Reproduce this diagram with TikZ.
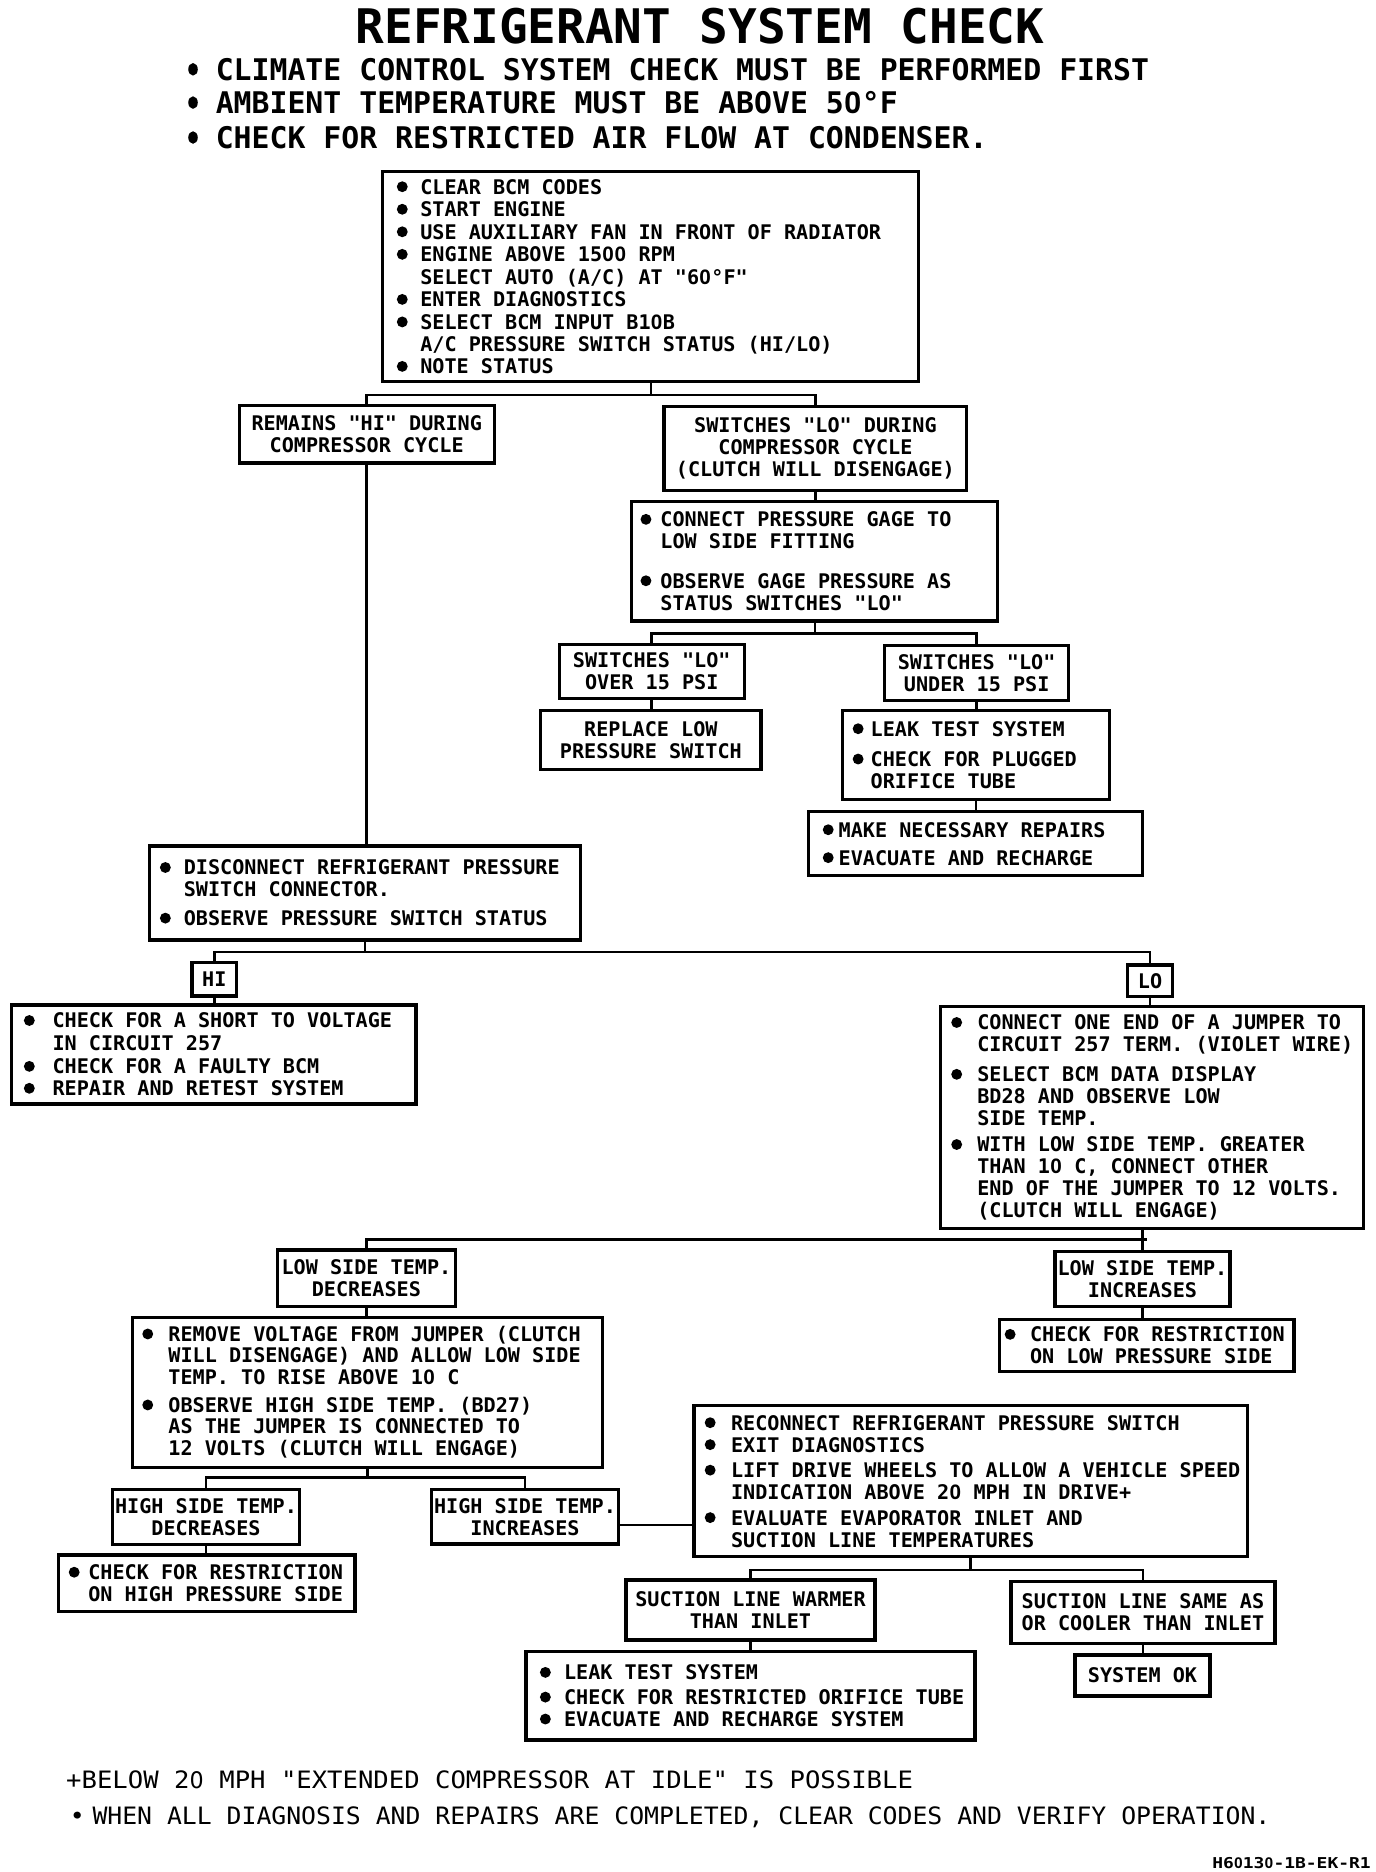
\documentclass[tikz,border=0pt]{standalone}
\usepackage{graphicx}
\usepackage{fontspec}
\setmainfont{DejaVu Sans Mono}
\newfontfamily\boxfamily[Ligatures=TeXOff]{DejaVu Sans Mono}
\newfontfamily\footAfamily[FakeStretch=1.07,Ligatures=TeXOff]{DejaVu Sans Mono}
\newfontfamily\footBfamily[FakeStretch=1.035,Ligatures=TeXOff]{DejaVu Sans Mono}
\newfontfamily\idfamily[FakeStretch=1.2]{DejaVu Sans Mono}
\newfontfamily\herosfam{TeX Gyre Heros}
\newcommand\Z{\makebox[0.602em]{\herosfam 0}}
\newcommand\boxfont{\boxfamily\bfseries\fontsize{10.1}{11}\selectfont}
\newlength\bulw
\newlength\bulp
\newcommand\bdot{\tikz[baseline=0pt]\fill (0.24em,0.37em) circle (0.27em);}
\newcommand\hdot{\tikz[baseline=0pt]\fill (0.15em,0.36em) ellipse [x radius=0.16em, y radius=0.21em];}
\newcommand\bul[1]{\mbox{\hspace*{\bulp}\makebox[\bulw][l]{\bdot}#1}}
\newcommand\ind[1]{\mbox{\hspace*{\bulp}\hspace*{\bulw}#1}}
% left-aligned bulleted box: opts, name, x1, y1, x2, y2, pad, bullet width, text
\newcommand\mkbox[9][]{%
  \pgfmathsetmacro\mkw{(#5-#3)*0.6}%
  \pgfmathsetmacro\mkh{(#6-#4)*0.6}%
  \node[box, inner xsep=0pt, minimum width=\mkw pt, minimum height=\mkh pt,
        text width=\mkw pt, align=left, anchor=north west,
        font=\boxfont\setlength{\bulp}{#7pt}\setlength{\bulw}{#8pt}, #1] (#2) at (#3,#4)
        {\spaceskip=0pt\xspaceskip=0pt\relax #9};}
% centred box: opts, name, x1, y1, x2, y2, text
\newcommand\mkcbox[7][]{%
  \pgfmathsetmacro\mkw{(#5-#3)*0.6}%
  \pgfmathsetmacro\mkh{(#6-#4)*0.6}%
  \node[box, inner xsep=0pt, minimum width=\mkw pt, minimum height=\mkh pt,
        align=center, anchor=north west, font=\boxfont, #1] (#2) at (#3,#4) {#7};}
\begin{document}
\begin{tikzpicture}[x=0.6pt,y=-0.6pt,
  box/.style={draw, line width=1.6pt, inner ysep=0pt, outer sep=0pt},
  conn/.style={line width=1.3pt},
  hdr/.style={anchor=base west, inner sep=0pt, font=\boxfamily\bfseries\fontsize{14.95}{18}\selectfont},
  ftrA/.style={anchor=base west, inner sep=0pt, font=\footAfamily\fontsize{12}{14}\selectfont},
  ftrB/.style={anchor=base west, inner sep=0pt, font=\footBfamily\fontsize{12}{14}\selectfont}]
\fill[white] (0,0) rectangle (1150,1564.6);
\useasboundingbox (0,0) rectangle (1150,1564.6);

% title and header notes
\node[anchor=base, inner sep=0pt, font=\boxfamily\bfseries\fontsize{23.9}{28}\selectfont] (title) at (585,36.2)
  {REFRIGERANT SYSTEM CHECK};
\node[hdr] (h1) at (157,66.9) {\makebox[13.8pt][l]{\hdot}CLIMATE CONTROL SYSTEM CHECK MUST BE PERFORMED FIRST};
\node[hdr] (h2) at (157,94.7) {\makebox[13.8pt][l]{\hdot}AMBIENT TEMPERATURE MUST BE ABOVE 5\Z°F};
\node[hdr] (h3) at (157,123.9) {\makebox[13.8pt][l]{\hdot}CHECK FOR RESTRICTED AIR FLOW AT CONDENSER.};

% boxes
\mkbox{b1}{320}{143.5}{768}{319}{7.0}{11.8}{\setlength{\baselineskip}{11.3pt}%
\bul{CLEAR BCM CODES}\\ \bul{START ENGINE}\\ \bul{USE AUXILIARY FAN IN FRONT OF RADIATOR}\\
\bul{ENGINE ABOVE 15\Z\Z{} RPM}\\ \ind{SELECT AUTO (A/C) AT "6\Z°F"}\\ \bul{ENTER DIAGNOSTICS}\\
\bul{SELECT BCM INPUT B1\Z B}\\ \ind{A/C PRESSURE SWITCH STATUS (HI/LO)}\\ \bul{NOTE STATUS}}
\mkcbox{remains}{200}{339}{413}{387}{REMAINS "HI" DURING\\COMPRESSOR CYCLE}
\mkcbox{swlo}{555}{340}{808}{410}{SWITCHES "LO" DURING\\COMPRESSOR CYCLE\\(CLUTCH WILL DISENGAGE)}
\mkbox{gage}{528}{419}{834}{519}{4.4}{10.0}{\bul{CONNECT PRESSURE GAGE TO}\\ \ind{LOW SIDE FITTING}\\[8.8pt]
\bul{OBSERVE GAGE PRESSURE AS}\\ \ind{STATUS SWITCHES "LO"}}
\mkcbox{over15}{467.5}{538.5}{622}{584}{SWITCHES "LO"\\OVER 15 PSI}
\mkcbox{under15}{739.5}{539.5}{893}{585.5}{SWITCHES "LO"\\UNDER 15 PSI}
\mkcbox{replace}{452}{593.5}{636}{643}{REPLACE LOW\\PRESSURE SWITCH}
\mkbox{leak1}{704}{594}{927.5}{668}{5.2}{9.0}{\bul{LEAK TEST SYSTEM}\\[4.2pt] \bul{CHECK FOR PLUGGED}\\ \ind{ORIFICE TUBE}}
\mkbox{repairs}{676}{678.5}{955}{732}{7.0}{8.0}{\bul{MAKE NECESSARY REPAIRS}\\[3pt] \bul{EVACUATE AND RECHARGE}}
\mkbox{disc}{125}{707}{485}{785.6}{5.2}{12.0}{\bul{DISCONNECT REFRIGERANT PRESSURE}\\ \ind{SWITCH CONNECTOR.}\\[3.4pt]
\bul{OBSERVE PRESSURE SWITCH STATUS}}
\mkcbox{hi}{160.4}{804.6}{197.8}{832.4}{HI}
\mkbox{short}{9.3}{840}{347.7}{922.7}{6.4}{14.4}{\setlength{\baselineskip}{11.5pt}%
\bul{CHECK FOR A SHORT TO VOLTAGE}\\ \ind{IN CIRCUIT 257}\\ \bul{CHECK FOR A FAULTY BCM}\\ \bul{REPAIR AND RETEST SYSTEM}}
\mkcbox{lo}{942.5}{806.5}{980}{833}{LO}
\mkbox{lodet}{786.2}{841.4}{1139.4}{1026.6}{5.3}{13.1}{\setlength{\baselineskip}{10.9pt}%
\bul{CONNECT ONE END OF A JUMPER TO}\\ \ind{CIRCUIT 257 TERM. (VIOLET WIRE)}\\[4.2pt]
\bul{SELECT BCM DATA DISPLAY}\\ \ind{BD28 AND OBSERVE LOW}\\ \ind{SIDE TEMP.}\\[2.5pt]
\bul{WITH LOW SIDE TEMP. GREATER}\\ \ind{THAN 1\Z{} C, CONNECT OTHER}\\ \ind{END OF THE JUMPER TO 12 VOLTS.}\\
\ind{(CLUTCH WILL ENGAGE)}}
\mkcbox{lsdec}{232}{1044.7}{380.5}{1092}{LOW SIDE TEMP.\\DECREASES}
\mkcbox{lsinc}{881.7}{1046}{1028}{1092}{LOW SIDE TEMP.\\INCREASES}
\mkbox{chklow}{835.2}{1102.6}{1081.5}{1146.4}{2.7}{12.7}{\bul{CHECK FOR RESTRICTION}\\ \ind{ON LOW PRESSURE SIDE}}
\mkbox{remove}{110.6}{1101}{503.6}{1226.4}{5.0}{13.1}{\setlength{\baselineskip}{10.8pt}%
\bul{REMOVE VOLTAGE FROM JUMPER (CLUTCH}\\ \ind{WILL DISENGAGE) AND ALLOW LOW SIDE}\\
\ind{TEMP. TO RISE ABOVE 1\Z{} C}\\[3.2pt] \bul{OBSERVE HIGH SIDE TEMP. (BD27)}\\
\ind{AS THE JUMPER IS CONNECTED TO}\\ \ind{12 VOLTS (CLUTCH WILL ENGAGE)}}
\mkcbox{hsdec}{94.2}{1244.8}{250.2}{1291}{HIGH SIDE TEMP.\\DECREASES}
\mkcbox{hsinc}{360.8}{1244.8}{516.7}{1290.5}{HIGH SIDE TEMP.\\INCREASES}
\mkbox{chkhigh}{48.8}{1299.6}{296.7}{1347}{5.2}{9.8}{\bul{CHECK FOR RESTRICTION}\\ \ind{ON HIGH PRESSURE SIDE}}
\mkbox{recon}{580}{1175}{1042.4}{1301}{5.4}{13.2}{\bul{RECONNECT REFRIGERANT PRESSURE SWITCH}\\ \bul{EXIT DIAGNOSTICS}\\[1.8pt]
\bul{LIFT DRIVE WHEELS TO ALLOW A VEHICLE SPEED}\\ \ind{INDICATION ABOVE 2\Z{} MPH IN DRIVE+}\\[1.8pt]
\bul{EVALUATE EVAPORATOR INLET AND}\\ \ind{SUCTION LINE TEMPERATURES}}
\mkcbox{warmer}{523.2}{1320.5}{731.3}{1370.7}{SUCTION LINE WARMER\\THAN INLET}
\mkcbox{same}{845}{1322}{1065.6}{1373.4}{SUCTION LINE SAME AS\\OR COOLER THAN INLET}
\mkcbox{sysok}{898.5}{1383.2}{1011.3}{1417.5}{SYSTEM OK}
\mkbox{leak2}{439.6}{1380.4}{814.9}{1454.3}{7.0}{12.1}{\setlength{\baselineskip}{12.4pt}%
\bul{LEAK TEST SYSTEM}\\ \bul{CHECK FOR RESTRICTED ORIFICE TUBE}\\ \bul{EVACUATE AND RECHARGE SYSTEM}}

% connectors
\coordinate (j1) at (546,330);
\draw[conn] (b1.south) -- (b1.south |- j1);
\draw[conn] (remains.north) |- (j1) -| (swlo.north);
\draw[conn] (swlo.south) -- (swlo.south |- gage.north);
\coordinate (j2) at (681,529.3);
\draw[conn] (gage.south) -- (gage.south |- j2);
\draw[conn] (over15.north) |- (j2) -| (under15.north);
\draw[conn] (over15.south) -- (over15.south |- replace.north);
\draw[conn] (under15.south) -- (under15.south |- leak1.north);
\draw[conn] (leak1.south) -- (leak1.south |- repairs.north);
\draw[conn] (remains.south) -- (remains.south |- disc.north);
\coordinate (j3) at (305,795.5);
\draw[conn] (disc.south) -- (disc.south |- j3);
\draw[conn] (hi.north) |- (j3) -| (lo.north);
\draw[conn] (hi.south) -- (hi.south |- short.north);
\draw[conn] (lo.south) -- (lo.south |- lodet.north);
\coordinate (j4) at (959,1036);
\draw[conn] (lodet.south -| lsinc.north) -- (lsinc.north);
\draw[conn] (lsdec.north) |- (j4);
\draw[conn] (lsinc.south) -- (lsinc.south |- chklow.north);
\draw[conn] (lsdec.south) -- (lsdec.south |- remove.north);
\coordinate (j5) at (307,1235);
\draw[conn] (remove.south) -- (remove.south |- j5);
\draw[conn] (hsdec.north) |- (j5) -| (hsinc.north);
\draw[conn] (hsdec.south) -- (hsdec.south |- chkhigh.north);
\coordinate (hr) at (0,1274.6);
\draw[conn] (hsinc.east |- hr) -- (recon.west |- hr);
\coordinate (j6) at (811,1312.2);
\draw[conn] (recon.south) -- (recon.south |- j6);
\draw[conn] (warmer.north) |- (j6) -| (same.north);
\draw[conn] (warmer.south) -- (warmer.south |- leak2.north);
\draw[conn] (same.south) -- (same.south |- sysok.north);

% footer
\node[ftrA] (f1) at (55,1494.6) {+BELOW 2\Z{} MPH "EXTENDED COMPRESSOR AT IDLE" IS POSSIBLE};
\node[ftrB] (f2) at (58,1524.5) {\makebox[11.4pt][l]{\textbullet}WHEN ALL DIAGNOSIS AND REPAIRS ARE COMPLETED, CLEAR CODES AND VERIFY OPERATION.};
\node[anchor=base east, inner sep=0pt, font=\idfamily\bfseries\fontsize{7.5}{8}\selectfont] (id) at (1146,1562) {H6\Z13\Z-1B-EK-R1};
\end{tikzpicture}
\end{document}
